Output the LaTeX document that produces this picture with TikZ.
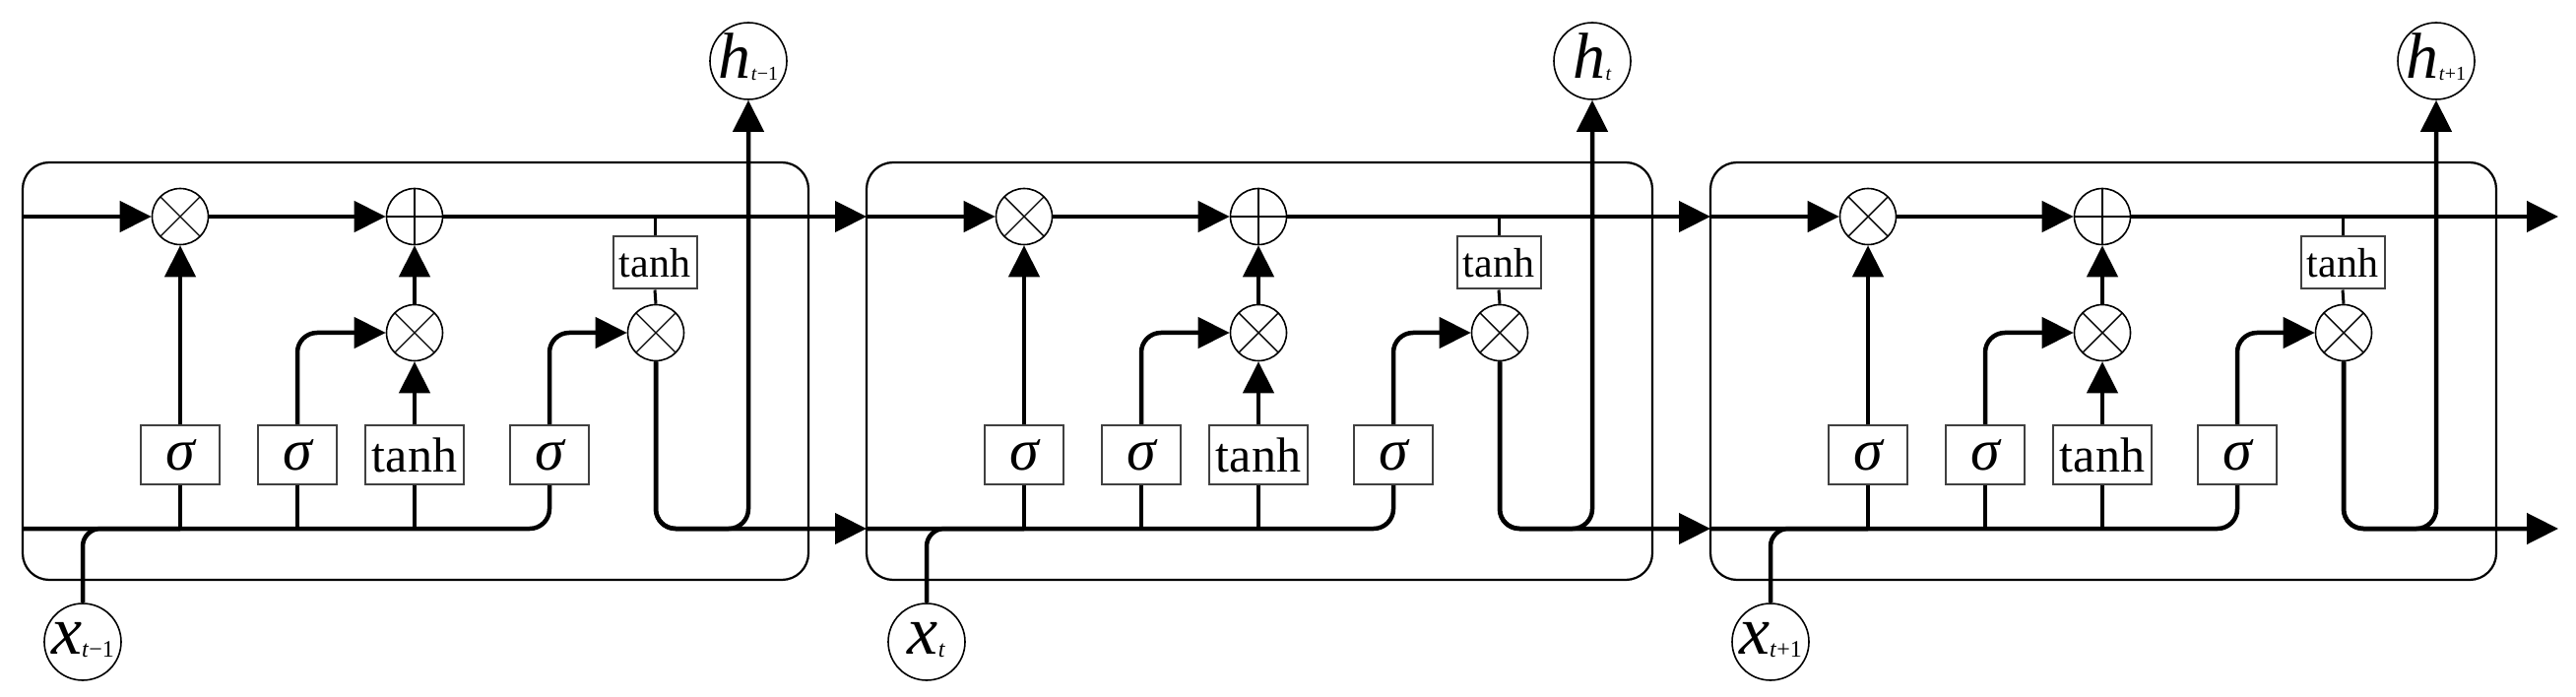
\documentclass[tikz,border=0pt]{standalone}
\usepackage{fontspec}
\setmainfont{Liberation Serif}
\usetikzlibrary{arrows.meta}
\newcommand{\sig}{\fontsize{60}{60}\selectfont\itshape σ}
\newcommand{\tnh}{\fontsize{50}{50}\selectfont tanh}
\newcommand{\stnh}{\fontsize{42}{42}\selectfont tanh}
\newcommand{\hlab}[1]{\makebox[0pt]{\raisebox{-18pt}[0pt][0pt]{\fontsize{66}{66}\selectfont\itshape h\raisebox{-2pt}{\upshape\fontsize{20}{20}\selectfont #1}}}}
\newcommand{\xlab}[1]{\makebox[0pt]{\raisebox{-12pt}[0pt][0pt]{\fontsize{70}{70}\selectfont\itshape x\raisebox{-3pt}{\upshape\fontsize{24}{24}\selectfont #1}}}}
\begin{document}
\begin{tikzpicture}[x=1pt,y=-1pt,
  conn/.style={line width=4.5pt},
  arr/.style={conn,-{Triangle[length=32pt,width=31pt]}},
  cellbox/.style={draw,line width=2.2pt,rounded corners=27pt,minimum width=798pt,minimum height=424pt,inner sep=0pt},
  gatebox/.style={draw=black!75,line width=2pt,fill=white,minimum height=60pt,inner sep=0pt},
  opcirc/.style={circle,draw,line width=1.6pt,minimum size=57pt,inner sep=0pt,fill=white},
  mult/.style={opcirc,path picture={\draw[line width=1.4pt] (path picture bounding box.north west)--(path picture bounding box.south east) (path picture bounding box.north east)--(path picture bounding box.south west);}},
  plus/.style={opcirc,path picture={\draw[line width=1.4pt] (path picture bounding box.north)--(path picture bounding box.south) (path picture bounding box.east)--(path picture bounding box.west);}},
  io/.style={circle,draw,line width=1.6pt,minimum size=78pt,inner sep=0pt,fill=white},
]
\useasboundingbox (0,0) rectangle (2616,708);
\foreach \i/\hs/\xs in {0/{\textit{t}−1}/{\textit{t}−1},1/{\textit{t}}/{\textit{t}},2/{\textit{t}+1}/{\textit{t}+1}} {
\begin{scope}[xshift=\i*857pt]
  \node[cellbox] (cell\i) at (422,377) {};
  \coordinate (cs\i) at (23,220);
  \coordinate (hb\i) at (23,537);
  \node[mult] (f\i) at (183,220) {};
  \node[plus] (p\i) at (421,220) {};
  \node[mult] (ig\i) at (421,338) {};
  \node[mult] (og\i) at (666,338) {};
  \node[gatebox,minimum width=80pt] (sf\i) at (183,462) {\sig};
  \node[gatebox,minimum width=80pt] (si\i) at (302,462) {\sig};
  \node[gatebox,minimum width=100pt] (tg\i) at (421,462) {\tnh};
  \node[gatebox,minimum width=80pt] (so\i) at (558,462) {\sig};
  \node[gatebox,minimum width=85pt,minimum height=53pt] (tc\i) at (665,267) {\stnh};
  \node[io] (h\i) at (760,62) {\hlab{\hs}};
  \node[io] (x\i) at (84,652) {\xlab{\xs}};
\end{scope}
}
\coordinate (cs3) at (2598,220);
\coordinate (hb3) at (2598,537);
\foreach \i/\nx in {0/1,1/2,2/3} {
  \draw[arr] (cs\i) -- (f\i.west);
  \draw[arr] (f\i.east) -- (p\i.west);
  \draw[arr] (p\i.east) -- (cs\nx);
  \draw[conn,rounded corners=20pt] (hb\i) -| (so\i.south);
  \draw[conn,rounded corners=18pt] (x\i.north) |- (sf\i.south |- hb\i);
  \draw[conn] (sf\i.south) -- (sf\i.south |- hb\i);
  \draw[conn] (si\i.south) -- (si\i.south |- hb\i);
  \draw[conn] (tg\i.south) -- (tg\i.south |- hb\i);
  \draw[arr] (sf\i.north) -- (f\i.south);
  \draw[arr,rounded corners=20pt] (si\i.north) |- (ig\i.west);
  \draw[arr] (tg\i.north) -- (ig\i.south);
  \draw[arr] (ig\i.north) -- (p\i.south);
  \draw[arr,rounded corners=20pt] (so\i.north) |- (og\i.west);
  \draw[line width=3pt] (tc\i.north) -- (tc\i.north |- p\i.east);
  \draw[line width=3pt] (tc\i.south) -- (og\i.north);
  \draw[arr,rounded corners=20pt] (og\i.south) |- (hb\nx);
  \draw[arr,rounded corners=20pt] (og\i.south) |- (h\i.south |- hb\i) -- (h\i.south);
}
\end{tikzpicture}
\end{document}
